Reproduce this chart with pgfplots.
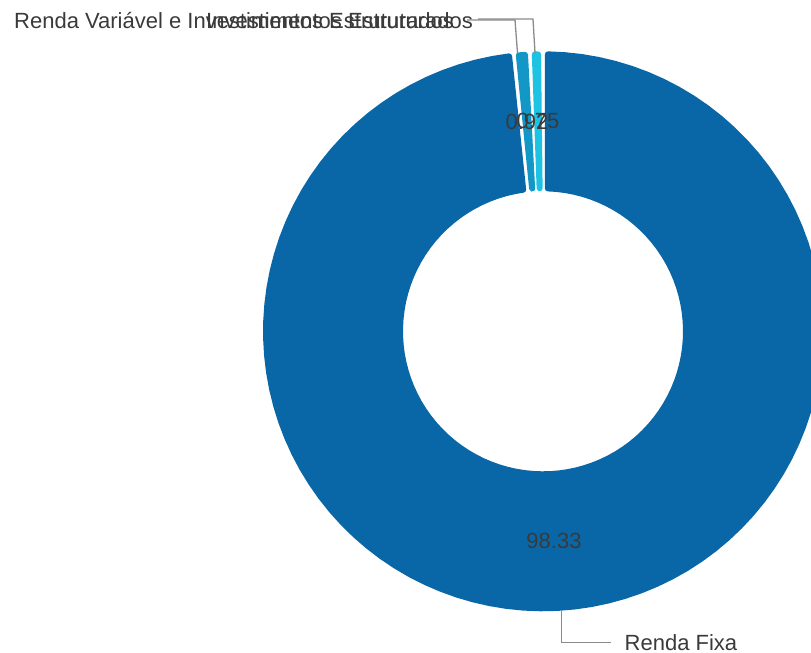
\documentclass[border=0pt]{standalone}
\usepackage{fontspec}
\setmainfont{Liberation Sans}
\usepackage{pgfplots}
\usepackage{pgfplotstable}
\pgfplotsset{compat=1.18}
\definecolor{cFixa}{HTML}{0A67A7}
\definecolor{cVar}{HTML}{1297C6}
\definecolor{cEst}{HTML}{1EC3E3}
\definecolor{cLine}{HTML}{8A8A8A}
\definecolor{cText}{HTML}{3A3A3A}

\pgfplotstableread[col sep=comma]{
name,value
Renda Fixa,98.33
Renda Variavel e Investimentos Estruturados,0.92
Investimentos Estruturados,0.75
}\donut
\pgfplotstablegetelem{0}{value}\of\donut \let\vA\pgfplotsretval
\pgfplotstablegetelem{1}{value}\of\donut \let\vB\pgfplotsretval
\pgfplotstablegetelem{2}{value}\of\donut \let\vC\pgfplotsretval

% geometry (pixel units of the reference)
\def\cx{543}\def\cy{331.3}\def\Ro{280}\def\Ri{140}\def\w{3}\def\g{1.9}
\pgfmathsetmacro\tot{\vA+\vB+\vC}
\pgfmathsetmacro\sA{0}
\pgfmathsetmacro\eA{360*(\vA/\tot)}
\pgfmathsetmacro\eB{\eA+360*(\vB/\tot)}
\pgfmathsetmacro\eC{\eB+360*(\vC/\tot)}
\pgfmathsetmacro\mA{(\sA+\eA)/2}
\pgfmathsetmacro\mB{(\eA+\eB)/2}
\pgfmathsetmacro\mC{(\eB+\eC)/2}
\pgfmathsetmacro\rmid{(\Ro+\Ri)/2}
\pgfmathsetmacro\xA{\cx+\rmid*sin(\mA)}\pgfmathsetmacro\yA{\cy-\rmid*cos(\mA)}
\pgfmathsetmacro\xB{\cx+\rmid*sin(\mB)}\pgfmathsetmacro\yB{\cy-\rmid*cos(\mB)}
\pgfmathsetmacro\xC{\cx+\rmid*sin(\mC)}\pgfmathsetmacro\yC{\cy-\rmid*cos(\mC)}

\newcommand\slice[3]{%
  \pgfmathsetmacro\ro{\Ro-\w}%
  \pgfmathsetmacro\rii{\Ri+\w}%
  \pgfmathsetmacro\dd{\g+\w}%
  \pgfmathsetmacro\spn{#2-#1}%
  \pgfmathsetmacro\ao{min(asin(\dd/\ro),\spn/2)}%
  \pgfmathsetmacro\ai{min(asin(\dd/\rii),\spn/2)}%
  \pgfmathsetmacro\os{#1+\ao}\pgfmathsetmacro\oe{#2-\ao}%
  \pgfmathsetmacro\is{#1+\ai}\pgfmathsetmacro\ie{#2-\ai}%
  \addplot[fill=#3, draw=#3, line width=6pt, line join=round, no markers,
    domain=0:3, samples=301, variable=\t]
  ( {(\t<=1) ? (\cx+\ro*sin(\os+\t*(\oe-\os))) : ((\t<=2) ? ((2-\t)*(\cx+\ro*sin(\oe)) + (\t-1)*(\cx+\rii*sin(\ie))) : (\cx+\rii*sin(\ie-(\t-2)*(\ie-\is))))},
    {(\t<=1) ? (\cy-\ro*cos(\os+\t*(\oe-\os))) : ((\t<=2) ? ((2-\t)*(\cy-\ro*cos(\oe)) + (\t-1)*(\cy-\rii*cos(\ie))) : (\cy-\rii*cos(\ie-(\t-2)*(\ie-\is))))} ) -- cycle;
}

\begin{document}
\begin{tikzpicture}[font=\fontsize{22}{26}\selectfont]
\begin{axis}[scale only axis, width=811pt, height=653pt,
  xmin=0, xmax=811, ymin=0, ymax=653, y dir=reverse,
  hide axis, clip mode=individual, enlargelimits=false]
  \slice{\sA}{\eA}{cFixa}
  \slice{\eA}{\eB}{cVar}
  \slice{\eB}{\eC}{cEst}
  % leader lines
  \addplot[cLine, line width=1.3pt, no markers] coordinates {(561.7,611) (561.7,642.5) (611,642.5)};
  \addplot[cLine, line width=1.3pt, no markers] coordinates {(517.5,53) (515,20) (467,20)};
  \addplot[cLine, line width=1.3pt, no markers] coordinates {(535,53) (533,19) (478,19)};
  % value labels
  \node[text=cText] at (axis cs:\xA,\yA) {\vA};
  \node[text=cText] at (axis cs:\xB,\yB) {\vB};
  \node[text=cText] at (axis cs:\xC,\yC) {\vC};
  % category labels
  \node[text=cText, anchor=base west, inner sep=0pt] at (axis cs:624.5,650.3) {Renda Fixa};
  \node[text=cText, anchor=base west, inner sep=0pt] at (axis cs:14,28.5) {Renda Variável e Investimentos Estruturados};
  \node[text=cText, anchor=base east, inner sep=0pt] at (axis cs:473,28.5) {Investimentos Estruturados};
  \coordinate (BL) at (axis cs:0,653);
  \coordinate (TR) at (axis cs:811,0);
\end{axis}
\pgfresetboundingbox
\path (BL) rectangle (TR);
\end{tikzpicture}
\end{document}
